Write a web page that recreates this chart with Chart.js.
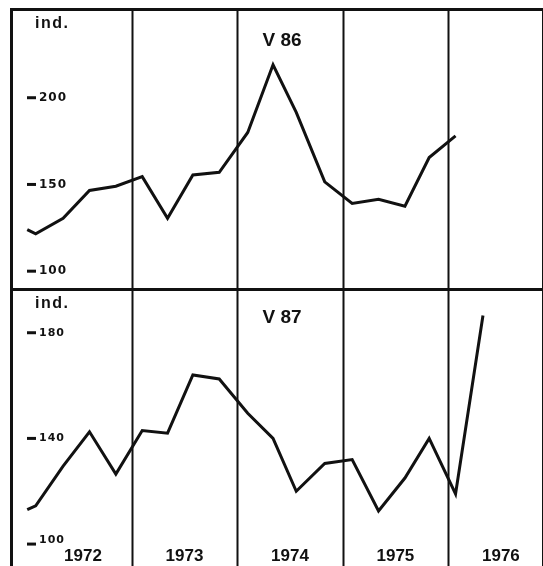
<!DOCTYPE html>
<html>
<head>
<meta charset="utf-8">
<script src="https://cdn.jsdelivr.net/npm/chart.js@4.4.1/dist/chart.umd.min.js"></script>
<style>
  body { margin: 0; background: #fff; width: 543px; height: 566px; overflow: hidden; position: relative; }
  #frame { position: absolute; left: 10px; top: 8px; width: 529px; height: 570px;
           border-left: 3px solid #111; border-top: 3px solid #111; border-right: 3px solid #111; }
  #divider { position: absolute; left: 10px; top: 288px; width: 535px; height: 3px; background: #111; }
  .box { position: absolute; left: 13px; width: 528px; }
  #topBox { top: 11px; height: 277px; }
  #botBox { top: 291px; height: 275px; }
</style>
</head>
<body>
<div id="frame"></div>
<div id="divider"></div>
<div class="box" id="topBox"><canvas id="chartV86" width="528" height="277"></canvas></div>
<div class="box" id="botBox"><canvas id="chartV87" width="528" height="275"></canvas></div>
<script>
// Quarterly index readings, positions in years
const periods = [1972.01, 1972.09, 1972.35, 1972.60, 1972.85, 1973.10, 1973.34, 1973.58, 1973.83,
                 1974.10, 1974.34, 1974.56, 1974.83, 1975.09, 1975.34, 1975.59, 1975.82, 1976.07, 1976.33];
const v86 = [124, 121.5, 130.5, 146.5, 149, 154.5, 130.5, 155.5, 157,
             180, 219, 191.5, 151.5, 139, 141.5, 137.5, 165.5, 178];
const v87 = [113, 114.5, 129.5, 142.5, 126.5, 143, 142, 164, 162.5,
             149.5, 140, 120, 130.5, 132, 112.5, 125, 140, 119, 186.5];
const years = [1972, 1973, 1974, 1975, 1976];
const yearLines = [1973, 1974, 1975, 1976];
const ticksV86 = [100, 150, 200];
const ticksV87 = [100, 140, 180];

const INK = '#111';

// Draws year separators, inner tick marks and the panel texts
const panelDecor = {
  id: 'panelDecor',
  beforeDatasetsDraw(chart, args, opts) {
    const ctx = chart.ctx;
    const x = chart.scales.x;
    ctx.save();
    ctx.strokeStyle = INK;
    ctx.lineWidth = 2;
    yearLines.forEach(yr => {
      const px = Math.round(x.getPixelForValue(yr)) + 0.5;
      ctx.beginPath();
      ctx.moveTo(px, 0);
      ctx.lineTo(px, chart.height);
      ctx.stroke();
    });
    ctx.restore();
  },
  afterDraw(chart, args, opts) {
    const ctx = chart.ctx;
    const x = chart.scales.x, y = chart.scales.y;
    ctx.save();
    ctx.fillStyle = INK;
    ctx.strokeStyle = INK;

    // inner ticks "— 200"
    opts.ticks.forEach(v => {
      const py = y.getPixelForValue(v);
      ctx.lineWidth = 3;
      ctx.beginPath();
      ctx.moveTo(14, py);
      ctx.lineTo(23, py);
      ctx.stroke();
      ctx.font = 'bold ' + opts.tickSize + 'px "DejaVu Sans"';
      ctx.letterSpacing = '1px';
      ctx.textBaseline = 'middle';
      ctx.textAlign = 'left';
      const raise = (opts.raiseLow && v === opts.ticks[0]) ? -4 : 0;
      ctx.fillText(String(v), 26, py + raise);
    });

    // "ind." label
    ctx.font = 'bold 16px "Liberation Sans"';
    ctx.letterSpacing = '1.5px';
    ctx.textBaseline = 'alphabetic';
    ctx.textAlign = 'left';
    ctx.fillText('ind.', 22, opts.indY);

    // panel title
    ctx.font = 'bold 19px "Liberation Sans"';
    ctx.letterSpacing = '0px';
    ctx.textAlign = 'center';
    ctx.textBaseline = 'middle';
    ctx.fillText(opts.title, 269, opts.titleY);

    // year labels on the lower panel
    if (opts.yearLabels) {
      ctx.font = 'bold 17px "Liberation Sans"';
      ctx.textBaseline = 'middle';
      years.forEach(yr => {
        ctx.fillText(String(yr), x.getPixelForValue(yr + 0.5) + (yr === 1972 ? 4 : 0), 265);
      });
    }
    ctx.restore();
  }
};

function makePanel(canvasId, series, yMin, yMax, decor) {
  const pts = series.map((v, i) => ({ x: periods[i], y: v }));
  return new Chart(document.getElementById(canvasId), {
    type: 'line',
    data: {
      datasets: [{
        data: pts,
        borderColor: INK,
        borderWidth: 3,
        pointRadius: 0,
        tension: 0,
        fill: false,
        clip: false
      }]
    },
    options: {
      responsive: false,
      animation: false,
      layout: { padding: 0 },
      plugins: {
        legend: { display: false },
        tooltip: { enabled: false },
        panelDecor: decor
      },
      scales: {
        x: { type: 'linear', min: 1971.875, max: 1976.88, display: false },
        y: { type: 'linear', min: yMin, max: yMax, display: false }
      }
    },
    plugins: [panelDecor]
  });
}

makePanel('chartV86', v86, 90.3, 250, {
  ticks: ticksV86, tickSize: 12, raiseLow: false,
  title: 'V 86', titleY: 30, indY: 17, yearLabels: false
});
makePanel('chartV87', v87, 91.7, 195.8, {
  ticks: ticksV87, tickSize: 11, raiseLow: true,
  title: 'V 87', titleY: 27, indY: 17, yearLabels: true
});
</script>
</body>
</html>
